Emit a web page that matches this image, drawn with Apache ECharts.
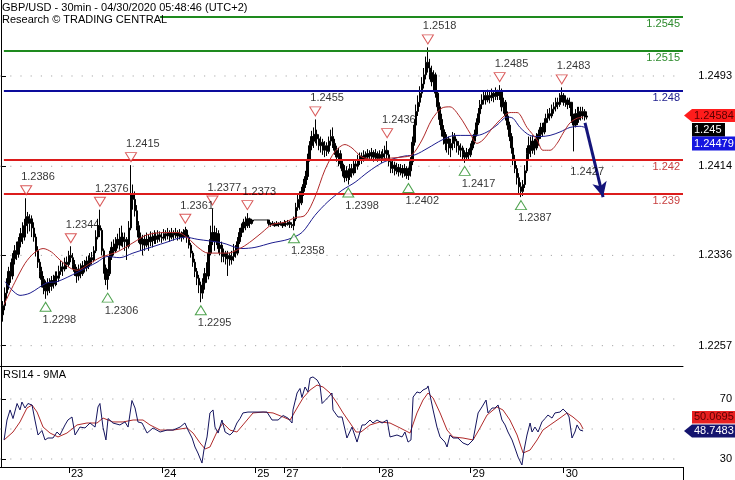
<!DOCTYPE html>
<html><head><meta charset="utf-8">
<script src="https://cdn.jsdelivr.net/npm/echarts@6/dist/echarts.min.js"></script>
<style>html,body{margin:0;padding:0;background:#fff}#c{width:735px;height:480px}</style>
</head><body><div id="c"></div>
<script>
const FONT = 'Liberation Sans, Arial, sans-serif';
const NBARS = 352;
const dayLabels = ['23','24','25','27','28','29','30'];
const dayStart = [35,83,131,146,195,242,290];
const priceTicks = [1.2257,1.2336,1.2414,1.2493];
const rsiTicks = [30,70];
const rsiGridVals = [30,50,70];
const levels = [1.2545,1.2515,1.248,1.242,1.239];
const levelStart = [82,1.5,1.5,1.5,1.5];
const levelColor = ['#1e8a1e','#1e8a1e','#0c0c9c','#dc1c1c','#dc1c1c'];
const levelText = ['#2e8b2e','#2e8b2e','#1c1c8c','#c84040','#c84040'];

// price candles (last 4 digits of 1.2xxx), bar index 1..302; open = previous close
const firstOpen = 2284;
const closeP = [
2292,2303,2310,2322,2318,2333,2340,2337,2348,2355,
2352,2362,2370,2364,2368,2360,2352,2340,2330,2322,
2315,2308,2305,2312,2309,2314,2311,2318,2316,2322,
2326,2324,2330,2328,2336,2334,2328,2322,2318,2324,
2320,2327,2325,2331,2328,2334,2332,2340,2352,2362,
2358,2340,2325,2315,2320,2335,2343,2340,2346,2350,
2345,2352,2348,2350,2344,2360,2390,2385,2375,2362,
2352,2346,2350,2345,2350,2348,2352,2349,2353,2350,
2354,2352,2351,2355,2353,2356,2352,2355,2354,2356,
2353,2355,2352,2356,2358,2352,2345,2338,2330,2322,
2316,2310,2303,2312,2320,2318,2338,2350,2356,2348,
2355,2342,2345,2335,2338,2333,2336,2332,2335,2340,
2338,2348,2356,2360,2365,2362,2368,2364,2366,2367,
2367,2367,2367,2367,2367,2367,2367,2364,2363,2364,
2362,2364,2363,2364,2362,2364,2363,2365,2363,2362,
2368,2378,2385,2382,2392,2398,2405,2420,2432,2440,
2436,2442,2438,2432,2435,2428,2432,2427,2436,2440,
2434,2428,2422,2425,2416,2410,2404,2410,2405,2412,
2408,2416,2414,2420,2423,2420,2424,2422,2425,2423,
2426,2422,2425,2421,2424,2422,2425,2428,2424,2418,
2412,2415,2410,2413,2409,2412,2408,2412,2406,2410,
2418,2435,2450,2462,2470,2478,2486,2494,2505,2500,
2496,2488,2494,2478,2466,2455,2446,2440,2434,2438,
2430,2434,2440,2436,2432,2428,2430,2424,2422,2426,
2424,2430,2436,2442,2452,2460,2468,2472,2476,2472,
2476,2474,2478,2475,2479,2476,2480,2466,2470,2458,
2450,2440,2430,2420,2412,2404,2396,2392,2398,2410,
2425,2432,2428,2436,2430,2438,2442,2448,2444,2452,
2456,2460,2458,2464,2466,2470,2468,2474,2476,2470,
2472,2468,2470,2458,2450,2460,2455,2462,2458,2462,
2457,2458];
const highP = [
2296,2308,2316,2326,2330,2338,2345,2348,2352,2360,
2365,2368,2386,2374,2372,2371,2365,2355,2344,2333,
2326,2318,2314,2316,2316,2318,2319,2322,2322,2327,
2331,2330,2334,2335,2340,2344,2338,2332,2326,2328,
2329,2331,2332,2335,2336,2338,2339,2344,2358,2368,
2376,2360,2342,2328,2324,2340,2348,2350,2352,2355,
2360,2362,2356,2356,2352,2366,2415,2398,2392,2380,
2366,2356,2354,2354,2356,2354,2357,2356,2358,2356,
2358,2357,2356,2359,2358,2360,2358,2360,2358,2360,
2358,2359,2357,2359,2361,2359,2354,2347,2340,2333,
2325,2319,2313,2316,2325,2330,2345,2362,2377,2362,
2360,2358,2352,2348,2342,2340,2340,2338,2340,2346,
2345,2352,2360,2364,2368,2370,2373,2369,2368,2367,
2367,2367,2367,2367,2367,2367,2367,2366,2365,2366,
2365,2366,2365,2366,2365,2367,2366,2367,2366,2365,
2370,2382,2390,2392,2396,2403,2410,2425,2436,2445,
2448,2455,2446,2442,2440,2438,2436,2435,2440,2446,
2448,2438,2432,2430,2428,2420,2415,2414,2412,2416,
2416,2420,2420,2424,2426,2426,2428,2427,2429,2428,
2430,2428,2429,2427,2428,2427,2429,2432,2436,2428,
2420,2419,2418,2417,2416,2416,2415,2416,2414,2413,
2422,2440,2455,2468,2476,2484,2492,2500,2510,2518,
2508,2502,2498,2496,2480,2470,2460,2450,2444,2442,
2440,2438,2444,2443,2438,2436,2434,2432,2428,2430,
2429,2434,2440,2446,2456,2465,2472,2477,2480,2479,
2481,2479,2482,2480,2483,2481,2485,2482,2474,2472,
2462,2453,2443,2433,2424,2415,2408,2400,2402,2415,
2430,2440,2440,2441,2438,2443,2446,2452,2452,2456,
2460,2464,2465,2468,2470,2474,2474,2478,2483,2478,
2476,2474,2474,2470,2460,2464,2466,2466,2466,2466,
2464,2462];
const lowP = [
2278,2288,2298,2306,2312,2315,2328,2332,2334,2343,
2346,2349,2358,2355,2357,2352,2348,2335,2325,2316,
2308,2302,2298,2301,2303,2305,2307,2309,2310,2313,
2319,2318,2322,2324,2326,2330,2324,2318,2312,2314,
2316,2318,2321,2322,2324,2326,2328,2330,2338,2350,
2352,2336,2320,2310,2306,2318,2332,2336,2338,2342,
2341,2344,2343,2340,2332,2342,2358,2376,2370,2358,
2347,2340,2336,2340,2343,2340,2344,2343,2346,2346,
2347,2348,2347,2349,2349,2350,2348,2350,2349,2351,
2349,2350,2348,2350,2352,2347,2342,2334,2326,2317,
2310,2303,2295,2298,2306,2312,2315,2336,2345,2340,
2345,2338,2336,2330,2330,2328,2318,2327,2328,2331,
2334,2336,2346,2352,2356,2358,2360,2360,2363,2367,
2367,2367,2367,2367,2367,2367,2367,2362,2361,2362,
2361,2362,2361,2362,2360,2362,2361,2362,2360,2360,
2358,2366,2375,2376,2380,2388,2395,2402,2418,2428,
2430,2434,2432,2428,2426,2424,2422,2423,2425,2432,
2430,2424,2418,2414,2412,2405,2400,2401,2398,2402,
2404,2406,2408,2411,2415,2416,2418,2419,2419,2419,
2420,2418,2420,2418,2419,2417,2419,2420,2420,2414,
2408,2408,2406,2407,2405,2406,2404,2405,2403,2402,
2405,2415,2432,2447,2458,2466,2474,2482,2490,2496,
2490,2484,2480,2474,2462,2450,2440,2433,2428,2426,
2424,2422,2428,2430,2426,2424,2422,2420,2417,2419,
2420,2422,2428,2433,2440,2450,2458,2464,2468,2468,
2470,2469,2471,2470,2472,2472,2472,2462,2460,2454,
2446,2436,2425,2415,2408,2398,2390,2387,2388,2395,
2408,2420,2422,2425,2424,2428,2432,2438,2440,2442,
2448,2452,2454,2456,2460,2462,2464,2466,2470,2467,
2466,2464,2465,2452,2427,2448,2450,2452,2454,2455,
2454,2455];

// moving averages on price: [bar index, last 4 digits]
const fastMA = [[1.6,2293],[7,2312],[12.4,2329],[17,2338],[21.7,2342],[26,2339],[30.4,2332],[35.6,2325],[39.2,2323],[45.9,2329],[51,2334],[59.8,2339],[68,2347],[75.3,2354],[84.5,2356],[91.2,2356],[96.4,2351],[101.5,2343],[106.7,2338],[117,2338],[124.2,2343],[129.4,2349],[134.5,2356],[139.7,2363],[146.4,2365],[151.5,2369],[156.7,2371],[161.8,2387],[167,2411],[172.2,2427],[177.3,2433],[180.9,2430],[186.1,2422],[192.8,2420],[199.5,2421],[206.7,2422],[211.8,2424],[217,2437],[222.1,2455],[227.3,2465],[231.4,2466],[236.6,2457],[241.7,2443],[245.3,2434],[248.4,2437],[253.6,2448],[258.7,2457],[262.3,2461],[266,2461],[271.1,2448],[276.3,2437],[279.3,2428],[283,2428],[286.6,2434],[289.7,2443],[293.3,2452],[296.9,2456],[300,2457]];
const slowMA = [[2.1,2313],[9.8,2301],[15,2303],[23.7,2312],[28.9,2313],[39.2,2321],[49.5,2330],[54.6,2335],[61.3,2334],[68,2338],[75.3,2342],[84.5,2347],[94.8,2352],[101.5,2350],[113.9,2347],[124.2,2342],[130.9,2343],[139.7,2347],[147.9,2350],[155.1,2356],[161.8,2371],[168.5,2383],[175.8,2393],[182.5,2400],[189.2,2409],[196.4,2417],[203.1,2421],[208.2,2423],[213.4,2424],[220.1,2430],[227.3,2437],[234,2441],[245.3,2441],[250.5,2444],[255.6,2450],[260.8,2457],[263.9,2456],[267.5,2448],[272.6,2441],[277.8,2440],[283,2441],[288.1,2444],[293.3,2448],[298.4,2449],[301,2448]];

// pivots
const highIdx = [13,36,51,67,95,109,127,162,199,220,257,289];
const highVal = [2386,2344,2376,2415,2361,2377,2373,2455,2436,2518,2485,2483];
const lowIdx = [23,55,103,151,179,210,239,268];
const lowVal = [2298,2306,2295,2358,2398,2402,2417,2387];
const lowNoMarkIdx = [295];
const lowNoMarkVal = [2427];

// forecast arrow
const arrowFrom = [301, 1.2452];
const arrowTo = [310.3, 1.2387];

// RSI14 and its 9MA: [bar index, value]
const rsi = [[1.6,42.7],[3.1,56],[4.7,62.7],[6.2,57],[8.3,67],[9.8,62.7],[10.8,68],[12.4,64],[13.9,67],[16,66],[17.5,56],[19.1,46],[21.1,49],[22.7,42.7],[24.2,44],[26.8,44],[28.9,48],[30.4,46],[33,52.7],[34.5,56],[36.6,58],[38.2,46],[40.7,51.3],[43.3,50.7],[45.9,54],[48.5,51.3],[50,64.7],[51,67],[52.6,51],[54.1,42.7],[55.2,57],[57.7,54],[61.3,52.7],[63.9,54.7],[65.5,51.3],[67.5,69],[69.1,64],[70.6,54.7],[72.7,54],[75.3,47.3],[78.4,50.7],[82,48],[85.6,49.3],[88.7,49.3],[92.3,51.3],[94.8,54],[96.4,49.3],[98.5,44],[100,38],[101.5,34],[103.6,27.3],[104.6,36],[106.2,44.7],[107.7,60.7],[109.3,62.7],[110.3,51.3],[111.9,47.3],[113.9,56],[115.5,48],[118,46],[119.6,48],[121.6,54],[123.2,57],[124.7,60.7],[127.3,61.3],[129.9,61.3],[137.1,61.3],[139.7,56],[142.8,56],[145.4,59],[147.9,57.3],[150,54],[150.5,62.7],[152.6,74],[154.1,77],[155.1,71],[156.7,78],[158.2,74.7],[159.3,84],[160.8,84.7],[162.9,82.7],[164.4,79.3],[165.5,67],[167,69],[168.5,71],[170.6,74],[171.1,62.7],[173.7,58],[175.8,58],[178.3,44],[180.9,51.3],[183.5,41.3],[186.1,52.7],[187.6,52.7],[190.2,56],[191.7,54],[193.8,56],[196.4,54],[199,56],[200.5,44.7],[204.1,46],[206.7,44.7],[208.2,48],[209.8,41.3],[211.3,42.7],[212.4,71.3],[214.4,74.7],[216,74],[217.5,76],[219.6,77.3],[220.1,78.7],[221.1,72.7],[222.7,62.7],[224.7,51.3],[226.3,44.7],[228.8,41.3],[229.9,38],[231.4,46],[233,44],[235.5,44],[238.1,40.7],[240.7,39.3],[243.3,42.7],[245.9,60.7],[247.9,64.7],[250,69.3],[251,60.7],[253.1,64],[254.6,64],[256.2,66],[258.2,56],[259.8,52.7],[261.3,48],[263.4,42.7],[264.9,37.3],[266.5,31.3],[268.5,26],[269.6,36],[271.1,46],[272.7,54],[273.7,48],[275.2,51.3],[276.8,48],[278.8,54.7],[280.4,57],[281.9,59.3],[284,57.3],[285.5,60.7],[288.1,61.3],[289.7,63.3],[291.7,60.7],[292.8,58],[294.3,44],[295.8,48],[296.9,52.7],[298.4,49.3],[300,48.7]];
const rsiMA = [[1.6,42.7],[6.2,48],[9.8,54.7],[13.4,64],[16,66],[18.6,61.3],[21.7,51.3],[25.3,47.3],[29.4,44.7],[34,47.3],[39.2,52.7],[44.3,54],[49.5,54],[52.6,57.3],[57.7,54.7],[62.9,54.7],[68.1,56],[73.2,56],[76.8,52.7],[82,49.3],[88.7,49.3],[95.9,50.7],[99,47.3],[102.6,40.7],[105.2,36.7],[107.7,38],[111.3,48],[114.4,54],[118,49.3],[121.6,48],[124.7,52.7],[129.9,60.7],[135.1,61.3],[140.2,60.7],[145.4,58],[149,56],[152.6,64],[155.7,70.7],[159.3,76],[162.9,79.3],[166,78],[169.6,74],[173.2,67.3],[176.3,60.7],[179.9,54],[183,48],[185.5,48],[190.2,52.7],[195.3,54.7],[200.5,54],[205.7,50.7],[210.8,47.3],[214.4,60.7],[217.5,69.3],[220.1,74],[222.7,70.7],[226.3,60.7],[229.9,49.3],[233,44.7],[238.1,44],[243.3,42.7],[246.9,50.7],[250.5,59.3],[255.6,64.7],[258.7,62.7],[262.3,56],[266,46],[269.1,34],[272.7,36],[276.3,42.7],[279.3,49.3],[283,52.7],[288.1,57.3],[291.7,60.7],[294.8,58],[298.4,54],[300,50.1]];

// right-hand value boxes
const lastPrice = 1.24584, fastVal = 1.245, slowVal = 1.24479;
const rsiLast = 48.7483, rsiMALast = 50.0695;

const toP = p => 1 + p / 10000;
const cats = Array.from({length: NBARS}, (_, i) => { const k = dayStart.indexOf(i); return k >= 0 ? dayLabels[k] : ''; });
const candles = ['-'];
let prev = firstOpen;
for (let k = 0; k < closeP.length; k++) {
  const o = prev, c = closeP[k];
  candles.push([toP(o), toP(c), toP(Math.min(lowP[k], o, c)), toP(Math.max(highP[k], o, c))]);
  prev = c;
}
const isDay = i => dayStart.indexOf(i) >= 0;
const ts = {fontFamily: FONT, fontSize: 11, color: '#000'};
const XMIN = -0.5, XMAX = NBARS - 0.5;
const gridLineSeries = (vals, xi, yi) => vals.map(v => ({
  type: 'line', xAxisIndex: xi, yAxisIndex: yi, data: [[XMIN, v], [XMAX, v]], showSymbol: false, silent: true, z: 1,
  lineStyle: {color: '#a8a8a8', width: 1, type: [1.2, 9]}
}));

const chart = echarts.init(document.getElementById('c'), null, {renderer: 'canvas'});
chart.setOption({
  animation: false,
  backgroundColor: '#fff',
  textStyle: {fontFamily: FONT},
  title: [
    {text: 'GBP/USD - 30min - 04/30/2020 05:48:46 (UTC+2)', left: 2, top: 2, padding: 0, textStyle: Object.assign({fontWeight: 'normal'}, ts)},
    {text: 'Research © TRADING CENTRAL', left: 2, top: 14, padding: 0, textStyle: Object.assign({fontWeight: 'normal'}, ts)},
    {text: 'RSI14 - 9MA', left: 3, top: 369, padding: 0, textStyle: Object.assign({fontWeight: 'normal'}, ts)}
  ],
  grid: [
    {left: 0, top: 0, width: 683, height: 366, outerBoundsMode: 'none', containLabel: false},
    {left: 0, top: 366, width: 683, height: 101, outerBoundsMode: 'none', containLabel: false}
  ],
  xAxis: [
    {type: 'category', gridIndex: 0, data: cats, boundaryGap: true, axisLine: {show: true, lineStyle: {color: '#000', width: 1}}, axisTick: {show: false}, axisLabel: {show: false}, splitLine: {show: false}},
    {type: 'category', gridIndex: 1, data: cats, boundaryGap: true, axisLine: {show: true, lineStyle: {color: '#000', width: 1}},
      axisTick: {show: true, interval: isDay, alignWithLabel: true, length: 6, lineStyle: {color: '#000'}},
      axisLabel: Object.assign({interval: isDay, align: 'left', margin: 1, padding: [0, 0, 0, 2], hideOverlap: false}, ts), splitLine: {show: false}},
    {type: 'value', gridIndex: 0, min: XMIN, max: XMAX, show: false},
    {type: 'value', gridIndex: 1, min: XMIN, max: XMAX, show: false}
  ],
  yAxis: [
    {type: 'value', gridIndex: 0, position: 'right', min: 1.22392, max: 1.25595, scale: true,
      axisLine: {show: true, lineStyle: {color: '#000'}},
      axisTick: {show: true, customValues: priceTicks, length: 5, lineStyle: {color: '#000'}},
      axisLabel: Object.assign({customValues: priceTicks, formatter: v => v.toFixed(4), align: 'right', margin: 49}, ts),
      splitLine: {show: false}},
    {type: 'value', gridIndex: 1, position: 'right', min: 24.67, max: 92,
      axisLine: {show: true, lineStyle: {color: '#000'}},
      axisTick: {show: true, customValues: rsiTicks, length: 5, lineStyle: {color: '#000'}},
      axisLabel: Object.assign({customValues: rsiTicks, formatter: v => String(v), align: 'right', margin: 49}, ts),
      splitLine: {show: false}}
  ],
  series: gridLineSeries(priceTicks, 2, 0).concat(gridLineSeries(rsiGridVals, 3, 1)).concat([
    {type: 'candlestick', xAxisIndex: 0, yAxisIndex: 0, data: candles, barWidth: 2,
      itemStyle: {color: '#000000', color0: '#000000', borderColor: '#000000', borderColor0: '#000000', borderWidth: 1}, z: 2},
    {type: 'line', xAxisIndex: 2, yAxisIndex: 0, data: slowMA.map(d => [d[0], toP(d[1])]), showSymbol: false, smooth: 0.3,
      lineStyle: {color: '#1c1c8e', width: 1}, z: 3},
    {type: 'line', xAxisIndex: 2, yAxisIndex: 0, data: fastMA.map(d => [d[0], toP(d[1])]), showSymbol: false, smooth: 0.3,
      lineStyle: {color: '#b02a2a', width: 1}, z: 3,
      markLine: {silent: true, symbol: 'none', animation: false,
        data: levels.map((v, k) => [
          {coord: [levelStart[k], v], lineStyle: {color: levelColor[k], width: 2, type: 'solid'},
            label: {show: true, position: 'insideEndBottom', distance: [3, 2], formatter: String(v), color: levelText[k], fontSize: 11, fontFamily: FONT}},
          {coord: [XMAX, v]}
        ])}
    },
    {type: 'scatter', xAxisIndex: 2, yAxisIndex: 0, data: highIdx.map((i, k) => [i, toP(highVal[k])]),
      symbol: 'triangle', symbolRotate: 180, symbolSize: [11, 9], symbolOffset: [0, -8],
      itemStyle: {color: '#fff', borderColor: '#d03030', borderWidth: 1}, z: 5},
    {type: 'scatter', xAxisIndex: 2, yAxisIndex: 0, data: lowIdx.map((i, k) => [i, toP(lowVal[k])]),
      symbol: 'triangle', symbolSize: [11, 9], symbolOffset: [0, 8],
      itemStyle: {color: '#fff', borderColor: '#228b22', borderWidth: 1}, z: 5},
    {type: 'scatter', xAxisIndex: 2, yAxisIndex: 0, data: highIdx.map((i, k) => [i, toP(highVal[k])]),
      symbol: 'circle', symbolSize: 1, itemStyle: {color: 'rgba(0,0,0,0)'}, z: 6,
      label: Object.assign({show: true, position: 'inside', align: 'left', verticalAlign: 'middle', offset: [-5, -21], formatter: p => p.value[1].toFixed(4)}, ts)},
    {type: 'scatter', xAxisIndex: 2, yAxisIndex: 0, data: lowIdx.map((i, k) => [i, toP(lowVal[k])]).concat(lowNoMarkIdx.map((i, k) => [i, toP(lowNoMarkVal[k])])),
      symbol: 'circle', symbolSize: 1, itemStyle: {color: 'rgba(0,0,0,0)'}, z: 6,
      label: Object.assign({show: true, position: 'inside', align: 'left', verticalAlign: 'middle', offset: [-3, 21], formatter: p => p.value[1].toFixed(4)}, ts)},
    {type: 'line', xAxisIndex: 2, yAxisIndex: 0, data: [], z: 7,
      markLine: {silent: true, animation: false, symbol: ['none', 'arrow'], symbolSize: [11, 15], label: {show: false},
        lineStyle: {color: '#14147a', width: 3, type: 'solid'},
        data: [[{coord: arrowFrom}, {coord: arrowTo}]]}},
    {type: 'line', xAxisIndex: 3, yAxisIndex: 1, data: rsiMA, showSymbol: false, lineStyle: {color: '#b02a2a', width: 1}, z: 3},
    {type: 'line', xAxisIndex: 3, yAxisIndex: 1, data: rsi, showSymbol: false, lineStyle: {color: '#14145e', width: 1}, z: 4}
  ])
});

const py = v => chart.convertToPixel({yAxisIndex: 0}, v);
const ry = v => chart.convertToPixel({yAxisIndex: 1}, v);
const fnt = '11px ' + FONT;
const yr = py(lastPrice), yn = ry(rsiLast);
const txt = (x, y, t, fill) => ({type: 'text', x: x, y: y, style: {text: t, fill: fill, font: fnt, verticalAlign: 'middle', align: 'left'}, z: 100});
chart.setOption({graphic: [
  {type: 'line', shape: {x1: 683.5, y1: 467, x2: 683.5, y2: 480}, style: {stroke: '#000', lineWidth: 1}},
  {type: 'polygon', shape: {points: [[684, yr], [692, yr - 6.5], [735, yr - 6.5], [735, yr + 6.5], [692, yr + 6.5]]}, style: {fill: '#ff1c1c'}, z: 90},
  txt(694, yr + 0.5, lastPrice.toFixed(5), '#5a0000'),
  {type: 'rect', shape: {x: 692, y: yr + 7.5, width: 33, height: 13.5}, style: {fill: '#000'}, z: 90},
  txt(694, yr + 14.5, String(fastVal), '#fff'),
  {type: 'rect', shape: {x: 692, y: yr + 21, width: 43, height: 14}, style: {fill: '#1515e0'}, z: 90},
  txt(694, yr + 28.5, slowVal.toFixed(5), '#fff'),
  {type: 'polygon', shape: {points: [[684, yn], [692, yn - 6.5], [735, yn - 6.5], [735, yn + 6.5], [692, yn + 6.5]]}, style: {fill: '#14146e'}, z: 90},
  txt(694, yn + 0.5, rsiLast.toFixed(4), '#fff'),
  {type: 'rect', shape: {x: 692, y: yn - 20, width: 43, height: 12.5}, style: {fill: '#e82020'}, z: 90},
  txt(694, yn - 13.5, rsiMALast.toFixed(4), '#5a0000')
]});
</script>
</body></html>
